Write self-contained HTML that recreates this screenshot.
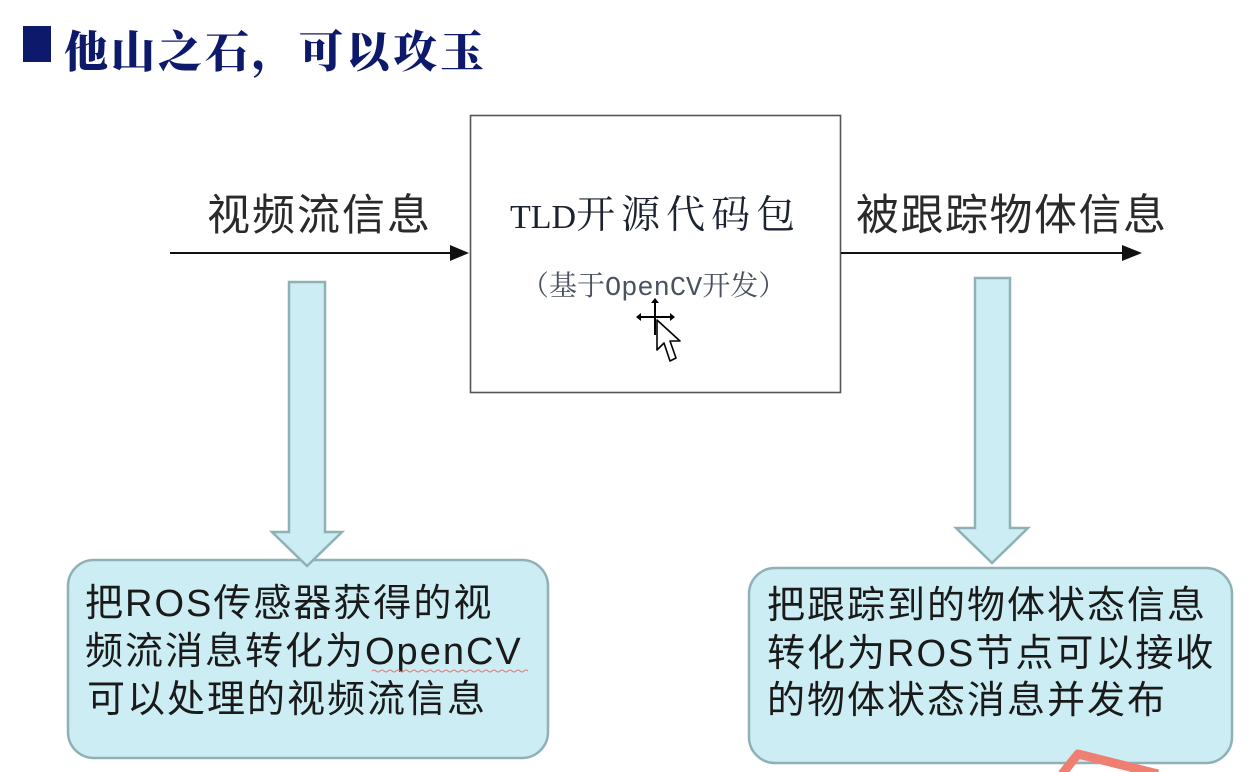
<!DOCTYPE html>
<html><head><meta charset="utf-8"><style>
html,body{margin:0;padding:0;background:#fff;}
body{width:1254px;height:772px;overflow:hidden;position:relative;}
svg{position:absolute;left:0;top:0;}
</style></head><body>
<svg width="1254" height="772" viewBox="0 0 1254 772" xmlns="http://www.w3.org/2000/svg">
  <!-- title -->
  <rect x="23" y="26" width="28" height="36" fill="#0d1a6b"/>
  <text x="64" y="67" font-family="'Noto Serif CJK SC','Noto Sans CJK SC',serif" font-weight="900" font-size="44" fill="#0d1a6b" letter-spacing="3">他山之石，可以攻玉</text>

  <!-- center box -->
  <rect x="470.5" y="115.5" width="370" height="277" fill="#fff" stroke="#555" stroke-width="1.6"/>
  <text x="510" y="228" font-family="'Liberation Serif','Noto Serif CJK SC',serif" font-size="34" fill="#1c2230">TLD<tspan letter-spacing="6" font-size="39" font-family="'Noto Serif CJK SC',serif">开源代码包</tspan></text>
  <text x="521" y="295" font-family="'Noto Serif CJK SC',serif" font-size="28" fill="#4a5260">（基于<tspan font-family="'Liberation Mono',monospace" font-size="27">OpenCV</tspan>开发）</text>

  <!-- horizontal arrows -->
  <line x1="170" y1="253" x2="452" y2="253" stroke="#111" stroke-width="2"/>
  <polygon points="450,245 469,253 450,261" fill="#111"/>
  <line x1="841" y1="253" x2="1124" y2="253" stroke="#111" stroke-width="2"/>
  <polygon points="1122,245 1142,253 1122,261" fill="#111"/>

  <text x="207" y="230" font-family="'Noto Sans CJK SC',sans-serif" font-size="43" fill="#2a2a2a" letter-spacing="2">视频流信息</text>
  <text x="856" y="230" font-family="'Noto Sans CJK SC',sans-serif" font-size="43" fill="#2a2a2a" letter-spacing="1.5">被跟踪物体信息</text>

  <!-- bottom boxes -->
  <rect x="68" y="560" width="480" height="198" rx="26" ry="26" fill="#cdedf4" stroke="#8fb1b6" stroke-width="2.5"/>
  <rect x="749" y="568" width="483" height="195" rx="26" ry="26" fill="#cdedf4" stroke="#8fb1b6" stroke-width="2.5"/>

  <!-- block arrows -->
  <polygon points="289,282 325,282 325,532 342,532 307,566 272,532 289,532" fill="#cdedf4" stroke="#8fb1b6" stroke-width="2.5" stroke-linejoin="miter"/>
  <polygon points="975,278 1010,278 1010,528 1028,528 992,563 956,528 975,528" fill="#cdedf4" stroke="#8fb1b6" stroke-width="2.5" stroke-linejoin="miter"/>

  <!-- box text -->
  <g font-family="'Liberation Sans','Noto Sans CJK SC',sans-serif" font-size="38" fill="#1a1a1a" letter-spacing="2">
    <text x="85" y="616">把ROS传感器获得的视</text>
    <text x="85" y="664">频流消息转化为OpenCV</text>
    <text x="87" y="712">可以处理的视频流信息</text>
    <text x="767" y="618">把跟踪到的物体状态信息</text>
    <text x="767" y="666">转化为ROS节点可以接收</text>
    <text x="767" y="713">的物体状态消息并发布</text>
  </g>
  <!-- squiggle under OpenCV -->
  <path d="M372 671 q2 -2 4 0 t4 0 t4 0 t4 0 t4 0 t4 0 t4 0 t4 0 t4 0 t4 0 t4 0 t4 0 t4 0 t4 0 t4 0 t4 0 t4 0 t4 0 t4 0 t4 0 t4 0 t4 0 t4 0 t4 0 t4 0 t4 0 t4 0 t4 0 t4 0 t4 0 t4 0 t4 0 t4 0 t4 0 t4 0 t4 0 t4 0 t4 0 t4 0" fill="none" stroke="#e07a7a" stroke-width="1"/>

  <!-- cursor -->
  <g stroke="#000" stroke-width="2" fill="none">
    <line x1="655" y1="300" x2="655" y2="335"/>
    <line x1="638" y1="317" x2="673" y2="317"/>
  </g>
  <polygon points="655,298 651,303 659,303" fill="#000"/>
  <polygon points="636,317 641,313 641,321" fill="#000"/>
  <polygon points="675,317 670,313 670,321" fill="#000"/>
  <polygon points="657,320 657,350 664,343 670,361 676,358 670,341 680,341" fill="#fff" stroke="#000" stroke-width="1.6" stroke-linejoin="round"/>

  <!-- red ribbon -->
  <path d="M1062 774 L1078 754 L1158 774" fill="none" stroke="#ef7f70" stroke-width="9" stroke-linejoin="round"/>
</svg>
</body></html>
